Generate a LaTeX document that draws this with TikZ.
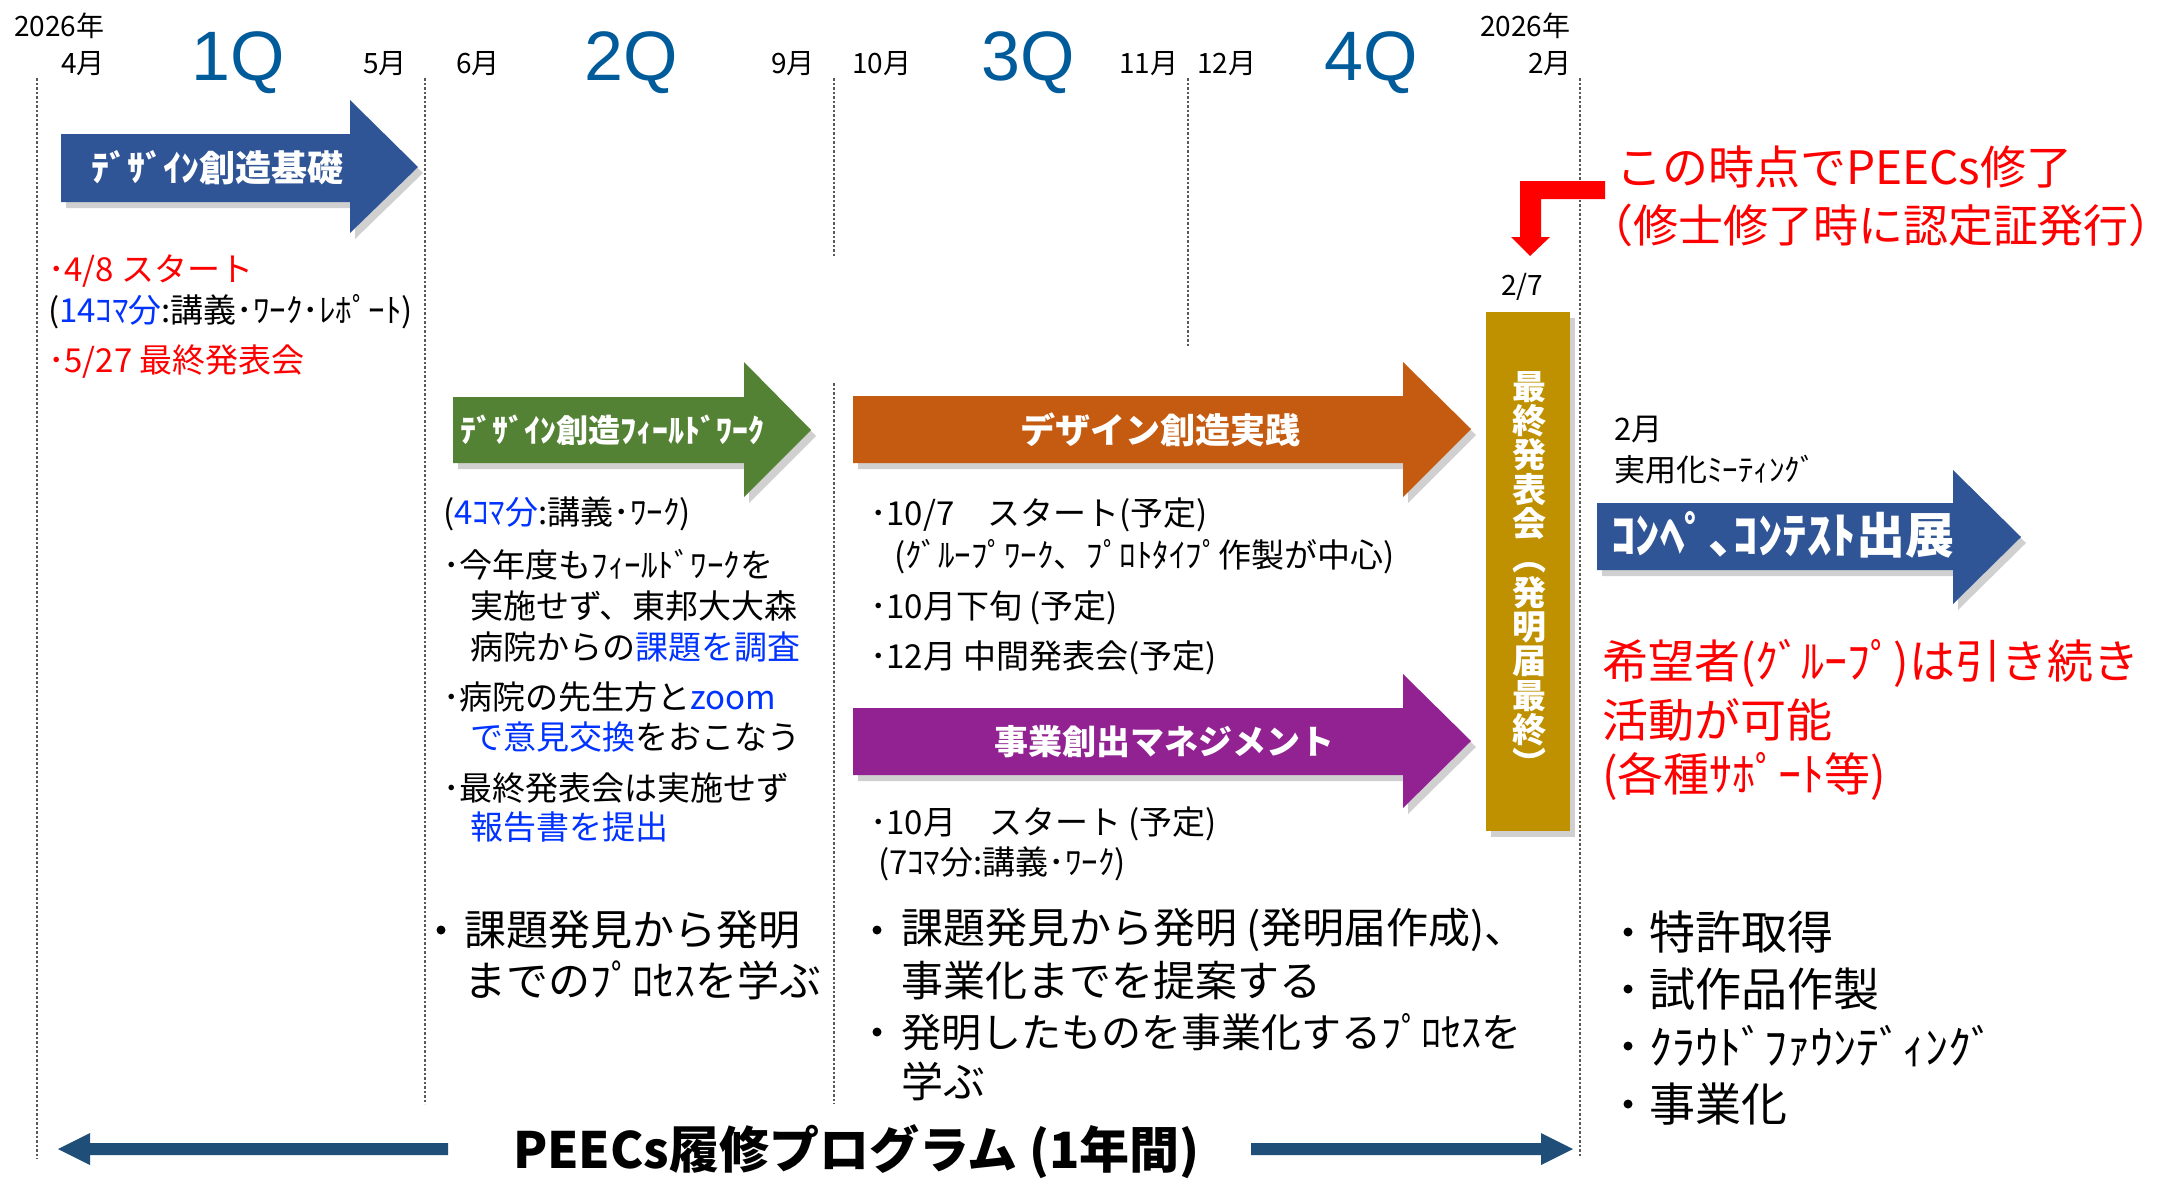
\documentclass[tikz,border=0pt]{standalone}
\usepackage{fontspec}
\setmainfont{Noto Sans CJK JP}
\newfontfamily\qfont{Liberation Sans}
\usetikzlibrary{shadows}
\definecolor{qblue}{RGB}{0,91,155}
\definecolor{arrblue}{RGB}{47,85,151}
\definecolor{arrgreen}{RGB}{84,130,53}
\definecolor{arrorange}{RGB}{197,90,17}
\definecolor{arrpurple}{RGB}{146,34,146}
\definecolor{gold}{RGB}{191,144,0}
\definecolor{tblue}{RGB}{0,51,255}
\definecolor{tred}{RGB}{255,0,0}
\definecolor{darkarr}{RGB}{31,78,121}
\begin{document}
\begin{tikzpicture}[x=1pt,y=-1pt,
  txt/.style={anchor=west,inner sep=0pt,outer sep=0pt},
  fs/.style={font=\fontsize{#1}{#1}\selectfont},
  fsb/.style={font=\fontsize{#1}{#1}\selectfont\bfseries},
  month/.style={txt,fs=28},
  qlab/.style={anchor=base west,inner sep=0pt,text=qblue,font=\qfont\fontsize{70}{70}\selectfont},
  body/.style={txt,fs=33},
  arrlab/.style={txt,text=white},
  bigred/.style={txt,fs=46,text=tred},
  bot/.style={txt,fs=42},
  botr/.style={txt,fs=46},
  bul/.style={circle,fill=black,inner sep=0pt,minimum size=9pt},
  vline/.style={draw=black!65,line width=1.1pt,dash pattern=on 2.5pt off 2pt},
  shad/.style={drop shadow={opacity=0.3,shadow xshift=5pt,shadow yshift=-6pt,fill=black!60}},
]
\useasboundingbox (0,0) rectangle (2173,1181);
\fill[white] (0,0) rectangle (2173,1181);

% dashed dividers
\draw[vline] (37,78) -- (37,1159);
\draw[vline] (425,78) -- (425,1104);
\draw[vline] (834,78) -- (834,256);
\draw[vline] (834,383) -- (834,1104);
\draw[vline] (1188,78) -- (1188,347);
\draw[vline] (1580,78) -- (1580,1157);

% header
\node[month] (y1) at (14,26) {2026年};
\node[month] (m4) at (61,64) {4月};
\node[month] (m5) at (363,64) {5月};
\node[month] (m6) at (456,64) {6月};
\node[month] (m9) at (771,64) {9月};
\node[month] (m10) at (852,64) {10月};
\node[month] (m11) at (1119,64) {11月};
\node[month] (m12) at (1197,64) {12月};
\node[month] (y2) at (1480,26) {2026年};
\node[month] (m2) at (1528,64) {2月};
\node[qlab] (q1) at (191,80) {1Q};
\node[qlab] (q2) at (584,80) {2Q};
\node[qlab] (q3) at (981,80) {3Q};
\node[qlab] (q4) at (1324,80) {4Q};

% block arrows
\fill[arrblue,shad] (61,134) -- (350,134) -- (350,100) -- (418,167) -- (350,233) -- (350,202) -- (61,202) -- cycle;
\node[arrlab,fsb=36] (a1) at (91,168) {ﾃﾞｻﾞｲﾝ創造基礎};

\fill[arrgreen,shad] (453,397) -- (744,397) -- (744,362) -- (811,430) -- (744,497) -- (744,463) -- (453,463) -- cycle;
\node[arrlab,fsb=32] (a2) at (460,430) {ﾃﾞｻﾞｲﾝ創造ﾌｨｰﾙﾄﾞﾜｰｸ};

\fill[arrorange,shad] (853,396) -- (1403,396) -- (1403,362) -- (1471,429) -- (1403,497) -- (1403,463) -- (853,463) -- cycle;
\node[arrlab,fsb=35] (a3) at (1020,430) {デザイン創造実践};

\fill[arrpurple,shad] (853,708) -- (1403,708) -- (1403,674) -- (1471,741) -- (1403,808) -- (1403,775) -- (853,775) -- cycle;
\node[arrlab,fsb=34] (a4) at (994,742) {事業創出マネジメント};

\fill[arrblue,shad] (1597,503) -- (1953,503) -- (1953,470) -- (2021,537) -- (1953,604) -- (1953,570) -- (1597,570) -- cycle;
\node[arrlab,fsb=49] (a5) at (1611,535) {ｺﾝﾍﾟ､ｺﾝﾃｽﾄ出展};

% gold final box
\node[fill=gold,shad,minimum width=84pt,minimum height=519pt,inner sep=0pt] (finalbox) at (1528,571) {};
\node[inner sep=0pt,text=white,align=center,font=\fontsize{34}{34.3}\selectfont\bfseries] (finaltext) at (1529,574)
 {最\\終\\発\\表\\会\\︵\\発\\明\\届\\最\\終\\︶};
\node[txt,fs=28] (d27) at (1501,287) {2/7};

% Q1 text
\node[body,text=tred] (q1a) at (48,271) {･4/8 スタート};
\node[body] (q1b) at (48,312) {(\textcolor{tblue}{14ｺﾏ分}:講義･ﾜｰｸ･ﾚﾎﾟｰﾄ)};
\node[body,text=tred] (q1c) at (48,362) {･5/27 最終発表会};

% Q2 text
\node[body] (q2a) at (443,514) {(\textcolor{tblue}{4ｺﾏ分}:講義･ﾜｰｸ)};
\node[body] (q2b) at (443,565) {･今年度もﾌｨｰﾙﾄﾞﾜｰｸを};
\node[body] (q2c) at (470,606) {実施せず、東邦大大森};
\node[body] (q2d) at (470,647) {病院からの\textcolor{tblue}{課題を調査}};
\node[body] (q2e) at (443,697) {･病院の先生方と\textcolor{tblue}{zoom}};
\node[body] (q2f) at (470,737) {\textcolor{tblue}{で意見交換}をおこなう};
\node[body] (q2g) at (443,788) {･最終発表会は実施せず};
\node[body,text=tblue] (q2h) at (470,827) {報告書を提出};

% Q3 text
\node[body] (q3a) at (870,515) {･10/7　スタート(予定)};
\node[body] (q3b) at (894,557) {(ｸﾞﾙｰﾌﾟﾜｰｸ、ﾌﾟﾛﾄﾀｲﾌﾟ作製が中心)};
\node[body] (q3c) at (870,608) {･10月下旬 (予定)};
\node[body] (q3d) at (870,658) {･12月 中間発表会(予定)};
\node[body] (q3e) at (870,824) {･10月　スタート (予定)};
\node[body] (q3f) at (878,864) {(7ｺﾏ分:講義･ﾜｰｸ)};

% right column
\node[txt,fs=31] (r2m) at (1614,430) {2月};
\node[txt,fs=31] (rmeet) at (1614,470) {実用化ﾐｰﾃｨﾝｸﾞ};
\node[bigred] (rt1) at (1616,167) {この時点でPEECs修了};
\node[txt,fs=45,text=tred] (rt2) at (1609,225) {\kern-0.45em（修士修了時に認定証発行）\kern-0.5em};
\fill[tred] (1605,181) -- (1520,181) -- (1520,237) -- (1511,237) -- (1530,256) -- (1550,237) -- (1541,237) -- (1541,199) -- (1605,199) -- cycle;
\node[bigred] (rb1) at (1602,663) {希望者(ｸﾞﾙｰﾌﾟ)は引き続き};
\node[bigred] (rb2) at (1602,720) {活動が可能};
\node[bigred] (rb3) at (1602,776) {(各種ｻﾎﾟｰﾄ等)};

% bottom lists
\node[bul] (bb1) at (441,930) {};
\node[bot] (b1) at (464,930) {課題発見から発明};
\node[bot] (b2) at (464,980) {までのﾌﾟﾛｾｽを学ぶ};
\node[bul] (bb2) at (877,930) {};
\node[bot] (b3) at (901,930) {課題発見から発明 (発明届作成)、};
\node[bot] (b4) at (901,981) {事業化までを提案する};
\node[bul] (bb3) at (877,1032) {};
\node[txt,fs=40] (b5) at (901,1032) {発明したものを事業化するﾌﾟﾛｾｽを};
\node[bot] (b6) at (901,1081) {学ぶ};
\node[bul] (bb4) at (1628,932) {};
\node[botr] (c1) at (1649,932) {特許取得};
\node[bul] (bb5) at (1628,989) {};
\node[botr] (c2) at (1649,989) {試作品作製};
\node[bul] (bb6) at (1628,1046) {};
\node[botr] (c3) at (1649,1046) {ｸﾗｳﾄﾞﾌｧｳﾝﾃﾞｨﾝｸﾞ};
\node[bul] (bb7) at (1628,1104) {};
\node[botr] (c4) at (1649,1104) {事業化};

% bottom title and arrows
\node[txt,fsb=50] (title) at (513,1152) {PEECs履修プログラム (1年間)};
\fill[darkarr] (58,1149) -- (90,1133) -- (90,1143) -- (448,1143) -- (448,1155) -- (90,1155) -- (90,1165) -- cycle;
\fill[darkarr] (1573,1149) -- (1541,1133) -- (1541,1143) -- (1251,1143) -- (1251,1155) -- (1541,1155) -- (1541,1165) -- cycle;
\end{tikzpicture}
\end{document}
